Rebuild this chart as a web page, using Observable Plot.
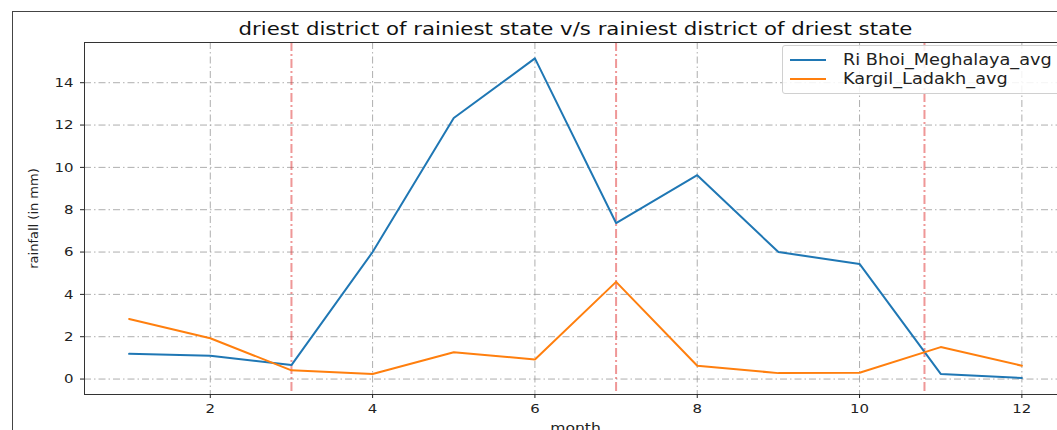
<!DOCTYPE html>
<html>
<head>
<meta charset="utf-8">
<script src="https://cdn.jsdelivr.net/npm/d3@7"></script>
<script src="https://cdn.jsdelivr.net/npm/@observablehq/plot@0.6"></script>
<style>
  html, body { margin: 0; padding: 0; background: #fff; }
  #wrap { position: relative; width: 1057px; height: 430px; overflow: hidden; font-family: "DejaVu Sans", sans-serif; }
  #chart svg { overflow: visible; }
  #border { position: absolute; left: 12px; top: 11px; right: -5px; bottom: -5px; border-left: 1px solid #444; border-top: 1px solid #444; pointer-events: none; }
  #legend { position: absolute; left: 782px; top: 45px; width: 277px; height: 47px; border: 1px solid #d0d0d0; border-radius: 3px; background: rgba(255,255,255,0.85); font-size: 15px; color: #222; }
  .row { position: absolute; left: 7px; height: 19px; display: flex; align-items: center; }
  .sw { width: 36px; height: 0; border-top: 2px solid; margin-right: 17px; }
  .lt { display: inline-block; transform: scaleX(1.18); transform-origin: left center; white-space: nowrap; }
</style>
</head>
<body>
<div id="wrap">
  <div id="chart"></div>
  <div id="legend"></div>
  <div id="border"></div>
</div>
<script>
const months = [1, 2, 3, 4, 5, 6, 7, 8, 9, 10, 11, 12];
const riBhoi = [1.19, 1.1, 0.66, 6.0, 12.33, 15.15, 7.37, 9.63, 6.0, 5.44, 0.24, 0.05];
const kargil = [2.84, 1.93, 0.41, 0.24, 1.27, 0.92, 4.59, 0.63, 0.28, 0.30, 1.51, 0.63];
const seriesNames = ["Ri Bhoi_Meghalaya_avg", "Kargil_Ladakh_avg"];
const seriesColors = ["#1f77b4", "#ff7f0e"];
const markerMonths = [3, 7, 10.8];
const xTicks = [2, 4, 6, 8, 10, 12];
const yTicks = [0, 2, 4, 6, 8, 10, 12, 14];
const title = "driest district of rainiest state v/s rainiest district of driest state";

const rows = [];
months.forEach((m, i) => {
  rows.push({month: m, value: riBhoi[i], series: seriesNames[0]});
  rows.push({month: m, value: kargil[i], series: seriesNames[1]});
});

const chart = Plot.plot({
  width: 1057,
  height: 430,
  marginLeft: 84,
  marginTop: 42,
  marginBottom: 36,
  marginRight: -9,
  style: {fontFamily: "DejaVu Sans, sans-serif", fontSize: "13px", color: "#222", background: "transparent", overflow: "visible"},
  x: {domain: [0.45, 12.55], ticks: xTicks},
  y: {domain: [-0.73, 15.9], ticks: yTicks},
  color: {domain: seriesNames, range: seriesColors},
  marks: [
    Plot.gridX(xTicks, {stroke: "#9a9a9a", strokeOpacity: 0.8, strokeDasharray: "7,3,1.5,3"}),
    Plot.gridY(yTicks, {stroke: "#9a9a9a", strokeOpacity: 0.8, strokeDasharray: "7,3,1.5,3"}),
    Plot.ruleX(markerMonths, {stroke: "#e03030", strokeOpacity: 0.5, strokeWidth: 2, strokeDasharray: "9,3,2,3"}),
    Plot.line(rows, {x: "month", y: "value", stroke: "series", strokeWidth: 2}),
    Plot.frame({stroke: "#333", strokeWidth: 1}),
    Plot.axisX(xTicks, {tickSize: 4, tickPadding: 5, fontSize: 13, label: "month", labelAnchor: "center", labelOffset: 37, labelArrow: "none"}),
    Plot.axisY(yTicks, {tickSize: 4, tickPadding: 7, fontSize: 13, label: "rainfall (in mm)", labelAnchor: "center", labelOffset: 56, labelArrow: "none"}),
    Plot.text([title], {frameAnchor: "top", dy: -20, fontSize: 17, fill: "#111"})
  ]
});
document.getElementById("chart").appendChild(chart);

// the reference picture is horizontally stretched: widen unrotated text around its anchor point
const svgNS = "http://www.w3.org/2000/svg";
function stretch(label, s) {
  chart.querySelectorAll(`g[aria-label="${label}"] text`).forEach(t => {
    const tr = t.getAttribute("transform") || "";
    if (tr.includes("rotate")) return;
    const c = t.transform && t.transform.baseVal ? t.transform.baseVal.consolidate() : null;
    const M = c ? c.matrix : {a: 1, b: 0, c: 0, d: 1, e: 0, f: 0};
    const ax = t.x && t.x.baseVal && t.x.baseVal.numberOfItems ? t.x.baseVal.getItem(0).value : 0;
    const ay = t.y && t.y.baseVal && t.y.baseVal.numberOfItems ? t.y.baseVal.getItem(0).value : 0;
    const px = M.a * ax + M.c * ay + M.e;
    const py = M.b * ax + M.d * ay + M.f;
    if (!isFinite(px) || !isFinite(py)) return;
    const g = document.createElementNS(svgNS, "g");
    g.setAttribute("transform", `translate(${px},${py}) scale(${s},1) translate(${-px},${-py})`);
    t.parentNode.insertBefore(g, t);
    g.appendChild(t);
  });
}
stretch("x-axis tick label", 1.15);
stretch("y-axis tick label", 1.15);
stretch("x-axis label", 1.2);
stretch("text", 1.25);

const legend = document.getElementById("legend");
seriesNames.forEach((name, i) => {
  const row = document.createElement("div");
  row.className = "row";
  row.style.top = (4 + i * 19) + "px";
  const sw = document.createElement("div");
  sw.className = "sw";
  sw.style.borderTopColor = seriesColors[i];
  const t = document.createElement("span");
  t.className = "lt";
  t.textContent = name;
  row.appendChild(sw);
  row.appendChild(t);
  legend.appendChild(row);
});
</script>
</body>
</html>
